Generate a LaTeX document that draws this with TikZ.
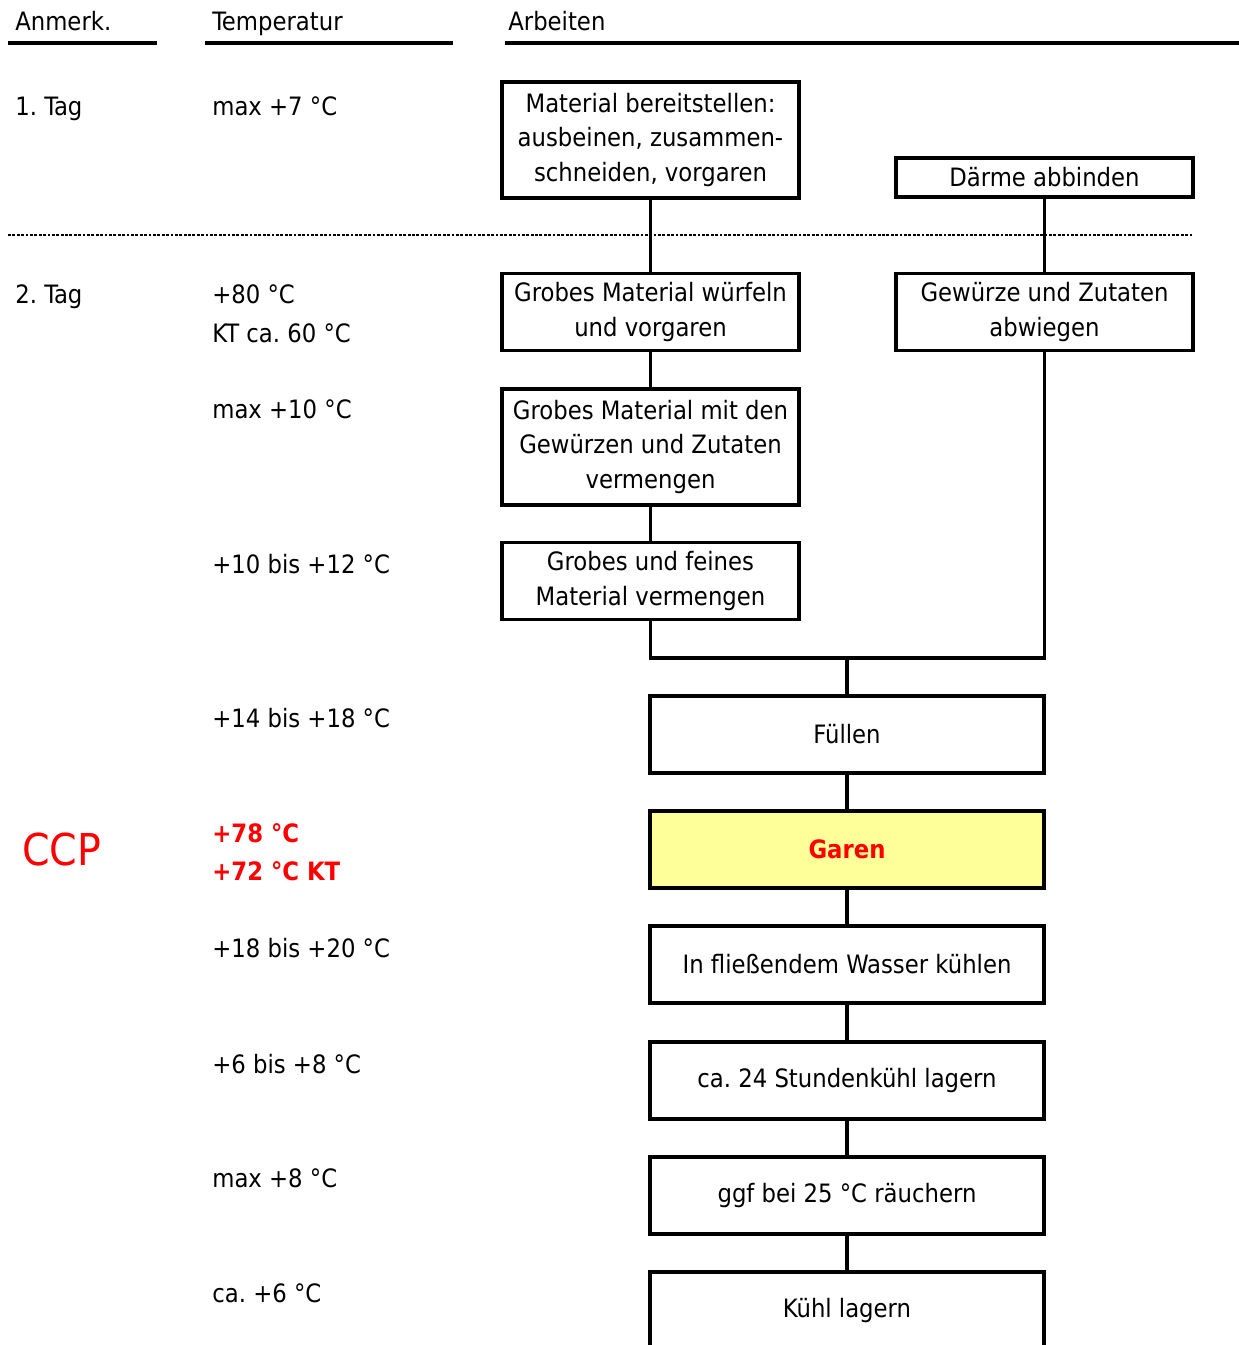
\documentclass[tikz,border=0pt]{standalone}
\usepackage{fontspec}
\setmainfont{DejaVu Sans Condensed}
\usepackage{tikz}
\usetikzlibrary{calc}
\frenchspacing
\definecolor{ccprot}{HTML}{FF0000}
\definecolor{garengelb}{HTML}{FFFF99}
\newcommand{\schrift}{\fontsize{14.4}{19.6}\selectfont}
\tikzset{
  kasten/.style={draw=black, line width=1.8pt, inner sep=0pt, align=center, font=\schrift},
  kleinkasten/.style={kasten, minimum width=5.94cm},
  grosskasten/.style={kasten, minimum width=7.88cm, minimum height=1.54cm},
  spalte/.style={anchor=base west, inner sep=0pt, font=\schrift},
  linie/.style={black, line width=1.8pt}
}

\begin{document}
\begin{tikzpicture}[x=0.02cm, y=-0.02cm]
\useasboundingbox (0,0) rectangle (1239,1345);
% Kopfzeile
\node[spalte] (anm) at (15,31) {Anmerk.};
\node[spalte] (temp) at (212,31) {Temperatur};
\node[spalte] (arb) at (508,31) {Arbeiten};
\draw[linie] (8,43) -- (157,43);
\draw[linie] (205,43) -- (453,43);
\draw[linie] (505,43) -- (1239,43);
\draw[black, line width=1.6pt, dash pattern=on 1.6pt off 0.9pt] (8,235) -- (1193,235);
% linke Spalten
\node[spalte] (tag1) at (15,115) {1. Tag};
\node[spalte] (tag2) at (15,303) {2. Tag};
\node[spalte, text=ccprot, font=\fontsize{25}{30}\selectfont] (ccp) at (22,865) {CCP};
\foreach \y/\t in {115/max +7 °C, 303/+80 °C, 342/KT ca. 60 °C, 418/max +10 °C, 573/+10 bis +12 °C, 727/+14 bis +18 °C, 957/+18 bis +20 °C, 1073/+6 bis +8 °C, 1187/max +8 °C, 1302/ca. +6 °C}
  \node[spalte] (temp\y) at (212,\y) {\t};
\node[spalte, text=ccprot, font=\schrift\bfseries] (ccpa) at (212,842) {+78 °C};
\node[spalte, text=ccprot, font=\schrift\bfseries] (ccpb) at (212,880) {+72 °C KT};
% Arbeiten
\node[kleinkasten, minimum height=2.32cm] (bereit) at (650.5,140) {Material bereitstellen:\\ausbeinen, zusammen-\\schneiden, vorgaren};
\node[kleinkasten, minimum height=0.78cm] (daerme) at (1044.5,177.5) {Därme abbinden};
\node[kleinkasten, minimum height=1.54cm] (wuerfeln) at (650.5,312) {Grobes Material würfeln\\und vorgaren};
\node[kleinkasten, minimum height=1.54cm] (wiegen) at (1044.5,312) {Gewürze und Zutaten\\abwiegen};
\node[kleinkasten, minimum height=2.32cm] (vermengen) at (650.5,447) {Grobes Material mit den\\Gewürzen und Zutaten\\vermengen};
\node[kleinkasten, minimum height=1.54cm] (feinmat) at (650.5,581) {Grobes und feines\\Material vermengen};
\coordinate (zusammen) at (847,658);
\node[grosskasten] (fuellen) at (847,734.5) {Füllen};
\node[grosskasten, fill=garengelb, text=ccprot, font=\schrift\bfseries] (garen) at (847,849.5) {Garen};
\node[grosskasten] (kuehlen) at (847,964.5) {In fließendem Wasser kühlen};
\node[grosskasten] (lagern) at (847,1080.5) {ca. 24 Stundenkühl lagern};
\node[grosskasten] (raeuchern) at (847,1195.5) {ggf bei 25 °C räuchern};
\node[grosskasten] (kuehllagern) at (847,1310.5) {Kühl lagern};
% Verbindungen
\draw[linie] (bereit) -- (wuerfeln);
\draw[linie] (daerme) -- (wiegen);
\draw[linie] (wuerfeln) -- (vermengen);
\draw[linie] (vermengen) -- (feinmat);
\draw[linie] (feinmat.south) |- (zusammen) -| (wiegen.south);
\draw[linie] (zusammen) -- (fuellen.north);
\foreach \a/\b in {fuellen/garen, garen/kuehlen, kuehlen/lagern, lagern/raeuchern, raeuchern/kuehllagern}
  \draw[linie] (\a) -- (\b);
\end{tikzpicture}
\end{document}
